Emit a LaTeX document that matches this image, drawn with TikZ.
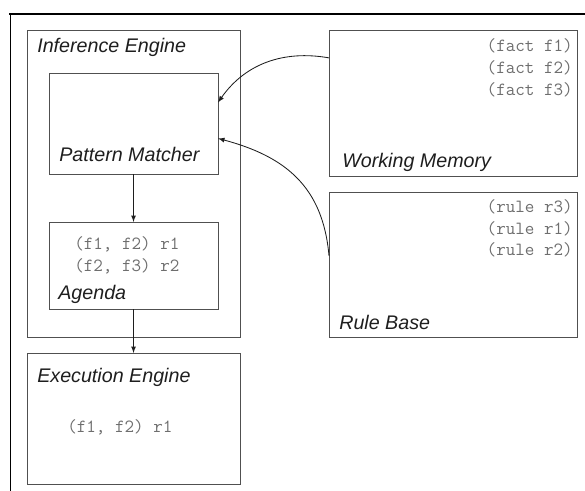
\documentclass[tikz,border=0pt]{standalone}
\usepackage{fontspec}
\usepackage{tikz}
\usetikzlibrary{arrows}
\newfontfamily\helv{Liberation Sans}
\definecolor{boxline}{RGB}{80, 80, 80}
\definecolor{labelink}{RGB}{30, 30, 30}
\definecolor{factgray}{RGB}{110, 110, 110}
\tikzset{
    unit/.style    = {draw=boxline, line width=0.7pt, inner sep=0pt, outer sep=0pt, anchor=north west},
    title/.style   = {anchor=base west, inner sep=0pt, color=labelink, font=\helv\itshape\fontsize{14}{16}\selectfont},
    fact/.style    = {inner sep=0pt, color=factgray, font=\ttfamily\fontsize{13.2}{15}\selectfont},
    flow/.style    = {-latex, draw=labelink, line width=0.6pt}
}

\begin{document}
\begin{tikzpicture}[x=0.025cm, y=-0.025cm]
            \useasboundingbox                                      (0, 0) rectangle (585, 491);
            \draw[black, line width=1.2pt]                         (9, 14) -- (585, 14);
            \draw[black, line width=0.7pt]                         (10.5, 14) -- (10.5, 491);
            \node[unit, minimum width=5.325cm, minimum height=7.675cm] (ie) at ( 27,  30) {};
            \node[unit, minimum width=4.225cm, minimum height=2.525cm] (pm) at ( 49,  73) {};
            \node[unit, minimum width=4.225cm, minimum height=2.175cm] (ag) at ( 49, 222) {};
            \node[unit, minimum width=5.325cm, minimum height=3.275cm] (ex) at ( 27, 353) {};
            \node[unit, minimum width=6.200cm, minimum height=3.650cm] (wm) at (329,  30) {};
            \node[unit, minimum width=6.200cm, minimum height=3.625cm] (rb) at (329, 192) {};
            \node[title] (ietitle) at ( 37,  53) {Inference Engine};
            \node[title] (pmtitle) at ( 59, 162) {Pattern Matcher};
            \node[title] (agtitle) at ( 58, 300) {Agenda};
            \node[title] (extitle) at ( 37, 382) {Execution Engine};
            \node[title] (wmtitle) at (342, 168) {Working Memory};
            \node[title] (rbtitle) at (339, 329) {Rule Base};
            \node[fact, anchor=base east] (fact1) at (573,  52) {(fact f1)};
            \node[fact, anchor=base east] (fact2) at (573,  74) {(fact f2)};
            \node[fact, anchor=base east] (fact3) at (573,  96) {(fact f3)};
            \node[fact, anchor=base east] (rule3) at (573, 213) {(rule r3)};
            \node[fact, anchor=base east] (rule1) at (573, 235) {(rule r1)};
            \node[fact, anchor=base east] (rule2) at (573, 256) {(rule r2)};
            \node[fact, anchor=base west] (act1)  at ( 74, 250) {(f1, f2) r1};
            \node[fact, anchor=base west] (act2)  at ( 74, 272) {(f2, f3) r2};
            \node[fact, anchor=base west] (fire)  at ( 67, 432) {(f1, f2) r1};
            \draw[flow] (pm.south) -- (ag.north);
            \draw[flow] (ag.south) -- (ex.north);
            \draw[flow] (wm.160) to[out=170, in=55]                  (pm.14);
            \draw[flow] (rb.176) to[out=95, in=-15, looseness=1.1]   (pm.-10);
\end{tikzpicture}
\end{document}
